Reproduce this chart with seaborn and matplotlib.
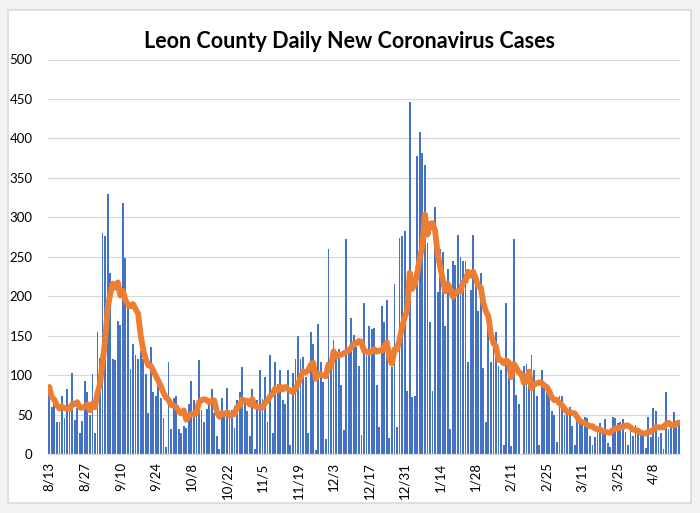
import matplotlib
matplotlib.use("Agg")
import matplotlib.pyplot as plt
import matplotlib.patches as mpatches
import numpy as np
import pandas as pd
import seaborn as sns

# daily new cases, 8/13/2020 .. 4/18/2021
cases = [
    85, 59, 63, 40, 41, 73, 45, 83, 55, 103, 43, 58, 26, 42, 92, 78, 49, 101, 27, 154,
    122, 280, 276, 329, 230, 120, 119, 168, 163, 318, 249, 185, 108, 139, 125, 120, 130, 120, 101, 52,
    135, 79, 74, 87, 71, 45, 9, 116, 32, 71, 74, 32, 26, 36, 33, 63, 92, 68, 48, 119,
    56, 40, 57, 70, 82, 52, 23, 6, 71, 50, 84, 56, 56, 33, 69, 78, 110, 70, 55, 23,
    83, 6, 68, 107, 70, 97, 40, 125, 26, 116, 89, 107, 69, 63, 106, 11, 103, 121, 149, 120,
    123, 97, 27, 154, 140, 5, 165, 116, 91, 19, 260, 116, 144, 120, 133, 88, 31, 273, 130, 172,
    151, 135, 111, 24, 191, 125, 162, 158, 160, 88, 34, 187, 167, 195, 20, 110, 215, 34, 274, 276,
    283, 80, 446, 72, 73, 378, 408, 381, 366, 268, 167, 80, 313, 205, 260, 256, 162, 234, 32, 245,
    240, 278, 250, 244, 244, 116, 208, 278, 220, 181, 230, 109, 40, 165, 116, 142, 154, 111, 106, 11,
    191, 99, 10, 273, 75, 64, 0, 111, 114, 94, 126, 106, 74, 11, 107, 89, 82, 86, 54, 49,
    15, 74, 74, 50, 56, 59, 36, 11, 42, 38, 40, 47, 45, 23, 12, 22, 30, 39, 30, 44,
    14, 9, 47, 45, 39, 40, 44, 28, 11, 30, 23, 37, 33, 25, 25, 8, 47, 22, 58, 55,
    21, 26, 6, 79, 32, 36, 53, 36, 38,
]
start_date = "2020-08-13"
tick_labels = ['8/13', '8/27', '9/10', '9/24', '10/8', '10/22', '11/5', '11/19', '12/3',
               '12/17', '12/31', '1/14', '1/28', '2/11', '2/25', '3/11', '3/25', '4/8']
y_ticks = [0, 50, 100, 150, 200, 250, 300, 350, 400, 450, 500]
title = "Leon County Daily New Coronavirus Cases"

dates = pd.date_range(start_date, periods=len(cases), freq="D")
df = pd.DataFrame({
    "day": np.arange(len(cases)),
    "label": [f"{d.month}/{d.day}" for d in dates],
    "cases": cases,
})
# 7 day average line
df["avg"] = df["cases"].rolling(7, min_periods=1).mean()

sns.set_style("white")
plt.rcParams['font.family'] = ['Lato', 'DejaVu Sans']

fig = plt.figure(figsize=(7, 5.13), dpi=100, facecolor="#f2f2f2")
# white chart box with light border
box = mpatches.Rectangle((8 / 700, 1 - 503 / 513), 683 / 700, 493 / 513,
                         transform=fig.transFigure, facecolor="white",
                         edgecolor="#d9d9d9", linewidth=1.2, zorder=-10)
fig.patches.append(box)

ax = fig.add_axes([48 / 700, 1 - 454 / 513, 632 / 700, 394.5 / 513])
ax.set_facecolor("none")
ax.set_zorder(1)

sns.barplot(data=df, x="day", y="cases", color="#4472c4", saturation=1,
            width=0.72, linewidth=0, ax=ax, zorder=2)
ax.plot(df["day"], df["avg"], color="#ed7d31", linewidth=4.2,
        solid_capstyle="round", solid_joinstyle="round", zorder=3)

ax.set_xlim(-0.5, len(cases) - 0.5)
ax.set_ylim(0, 500)
ax.set_yticks(y_ticks)
ax.yaxis.grid(True, color="#d9d9d9", linewidth=0.9, zorder=0)
ax.set_axisbelow(True)

tick_pos = [df.index[df["label"] == t][0] for t in tick_labels]
ax.set_xticks(tick_pos)
ax.set_xticklabels(tick_labels, rotation=90, fontsize=9.5)
ax.tick_params(axis="x", length=0, pad=6, colors="black")
ax.tick_params(axis="y", length=0, pad=11, labelsize=9.5, colors="black")
ax.set_xlabel("")
ax.set_ylabel("")

for s in ["top", "right", "left"]:
    ax.spines[s].set_visible(False)
ax.spines["bottom"].set_color("#d9d9d9")
ax.spines["bottom"].set_linewidth(0.9)

fig.text(0.5, 1 - 41 / 513, title, ha="center", va="center",
         fontsize=15.5, fontweight="bold", color="black")

plt.savefig("out.png", dpi=100, facecolor=fig.get_facecolor())
